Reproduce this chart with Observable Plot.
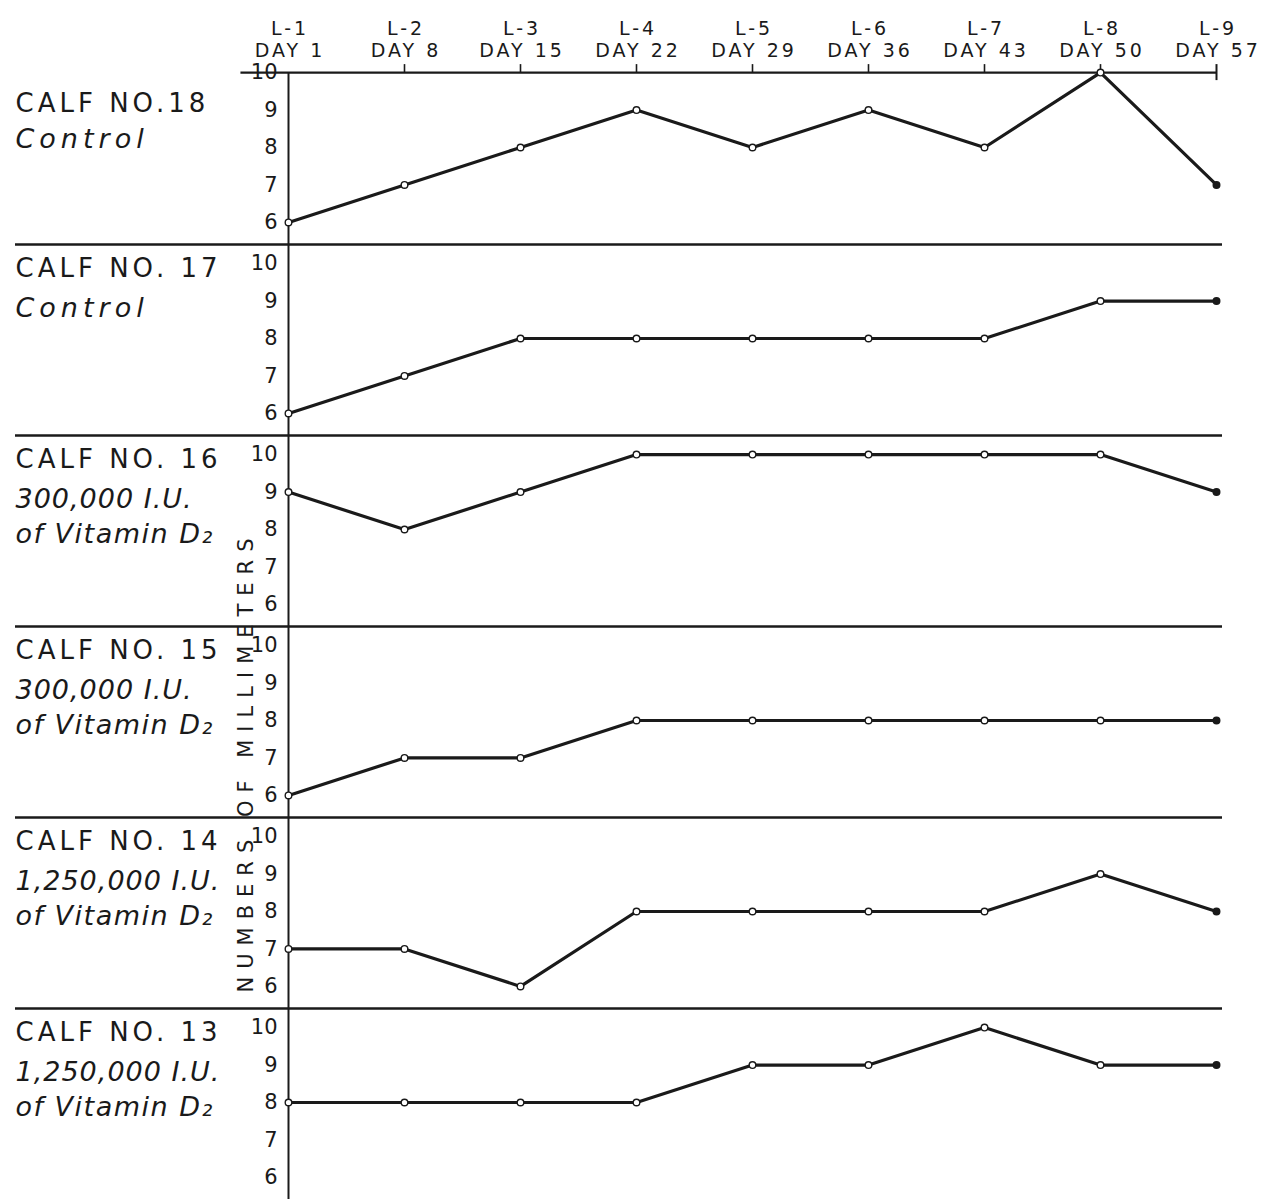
<!DOCTYPE html>
<html><head><meta charset="utf-8">
<script src="https://cdn.jsdelivr.net/npm/d3@7"></script>
<script src="https://cdn.jsdelivr.net/npm/@observablehq/plot@0.6"></script>
<style>
html,body{margin:0;padding:0;background:#fff;}
#chart svg{display:block;}
g[aria-description="header"] text{letter-spacing:3px;}
g[aria-description="title"] text{letter-spacing:4px;}
g[aria-description="control"] text{letter-spacing:5px;}
g[aria-description="dose"] text{letter-spacing:1px;}
g[aria-description="vitamin"] text{letter-spacing:1.5px;}
g[aria-description="ytitle"] text{letter-spacing:8px;}
</style>
</head><body><div id="chart"></div>
<script>
// ---- data ----
const periods = ["L-1","L-2","L-3","L-4","L-5","L-6","L-7","L-8","L-9"];
const days = ["DAY 1","DAY 8","DAY 15","DAY 22","DAY 29","DAY 36","DAY 43","DAY 50","DAY 57"];
const calves = ["CALF NO.18","CALF NO. 17","CALF NO. 16","CALF NO. 15","CALF NO. 14","CALF NO. 13"];
const treatLine1 = ["Control","Control","300,000 I.U.","300,000 I.U.","1,250,000 I.U.","1,250,000 I.U."];
const treatLine2 = ["","","of Vitamin D₂","of Vitamin D₂","of Vitamin D₂","of Vitamin D₂"];
const calf18 = [6, 7, 8, 9, 8, 9, 8, 10, 7];
const calf17 = [6, 7, 8, 8, 8, 8, 8, 9, 9];
const calf16 = [9, 8, 9, 10, 10, 10, 10, 10, 9];
const calf15 = [6, 7, 7, 8, 8, 8, 8, 8, 8];
const calf14 = [7, 7, 6, 8, 8, 8, 8, 9, 8];
const calf13 = [8, 8, 8, 8, 9, 9, 10, 9, 9];
const yTicks = [6, 7, 8, 9, 10];
const yTitle = "NUMBERS OF MILLIMETERS";

// ---- derived tables ----
const series = [calf18, calf17, calf16, calf15, calf14, calf13];
const rows = series.flatMap((vals, c) => vals.map((v, i) => ({calf: calves[c], idx: i, value: v, last: i === vals.length - 1})));
const tickRows = calves.flatMap(c => yTicks.map(t => ({calf: c, t})));
const header = periods.map((p, i) => ({calf: calves[0], idx: i, label: p + "\n" + days[i]}));
const labelRows = calves.map((c, i) => ({calf: c, title: c, l1: treatLine1[i], l2: treatLine2[i]}));
const first = labelRows.slice(0, 1), rest = labelRows.slice(1);
const restControls = rest.filter(d => d.l2 === "");
const doses = labelRows.filter(d => d.l2 !== "");

const ink = "#1a1a1a";
const yDom = [5.41, 10.51];
const font = "DejaVu Sans, Verdana, sans-serif";

const chart = Plot.plot({
  width: 1274, height: 1199,
  marginTop: 52, marginBottom: 0, marginLeft: 15, marginRight: 52,
  style: {background: "#fff", fontFamily: font, color: ink, overflow: "visible"},
  x: {domain: [0, periods.length - 1], range: [288, 1216], axis: null},
  y: {domain: yDom, axis: null},
  fy: {domain: calves, axis: null, padding: 0},
  facet: {marginTop: 0, marginBottom: 0, marginLeft: 0, marginRight: 0},
  marks: [
    // separators between panels
    Plot.ruleY(rest, {fy: "calf", y: yDom[1], stroke: ink, strokeWidth: 2.4}),
    // top axis line + left rule in first panel
    Plot.ruleY(first, {fy: "calf", y: 10, x1: 0, x2: periods.length - 1, stroke: ink, strokeWidth: 2.2}),
    Plot.ruleY(first, {fy: "calf", y: 10, x2: -0.41, stroke: ink, strokeWidth: 2.4}),
    Plot.ruleX(header.slice(1, -1), {fy: "calf", x: "idx", y1: 10, y2: 10, insetTop: -8, stroke: ink, strokeWidth: 1.6}),
    Plot.ruleX(header.slice(-1), {fy: "calf", x: "idx", y1: 10, y2: 10, insetTop: -8, insetBottom: -8, stroke: ink, strokeWidth: 2}),
    Plot.text(header, {fy: "calf", x: "idx", y: 10, text: "label", lineAnchor: "bottom", dy: -16, dx: 1.5, lineHeight: 1.16, fontSize: 19, fill: ink, ariaDescription: "header"}),
    // vertical axis
    Plot.ruleX(first, {fy: "calf", x: 0, y1: 10, y2: yDom[0], stroke: ink, strokeWidth: 2}),
    Plot.ruleX(rest, {fy: "calf", x: 0, stroke: ink, strokeWidth: 2}),
    // y tick labels
    Plot.text(tickRows, {fy: "calf", x: 0, y: "t", text: d => String(d.t), textAnchor: "end", dx: -11, fontSize: 21, fill: ink}),
    // panel labels
    Plot.text(first, {fy: "calf", frameAnchor: "top-left", text: "title", lineAnchor: "bottom", dy: 58, fontSize: 26, fill: ink, ariaDescription: "title"}),
    Plot.text(first, {fy: "calf", frameAnchor: "top-left", text: "l1", lineAnchor: "bottom", dy: 94, fontSize: 27, fontStyle: "italic", fill: ink, ariaDescription: "control"}),
    Plot.text(rest, {fy: "calf", frameAnchor: "top-left", text: "title", lineAnchor: "bottom", dy: 32, fontSize: 26, fill: ink, ariaDescription: "title"}),
    Plot.text(restControls, {fy: "calf", frameAnchor: "top-left", text: "l1", lineAnchor: "bottom", dy: 72, fontSize: 27, fontStyle: "italic", fill: ink, ariaDescription: "control"}),
    Plot.text(doses, {fy: "calf", frameAnchor: "top-left", text: "l1", lineAnchor: "bottom", dy: 72, fontSize: 27, fontStyle: "italic", fill: ink, ariaDescription: "dose"}),
    Plot.text(doses, {fy: "calf", frameAnchor: "top-left", text: "l2", lineAnchor: "bottom", dy: 107, fontSize: 27, fontStyle: "italic", fill: ink, ariaDescription: "vitamin"}),
    // vertical axis title
    Plot.text([{calf: calves[3]}], {fy: "calf", x: 0, y: yDom[0], dx: -42, dy: -56, rotate: -90, text: () => yTitle, fontSize: 21, fill: ink, ariaDescription: "ytitle"}),
    // data
    Plot.line(rows, {fy: "calf", x: "idx", y: "value", stroke: ink, strokeWidth: 3.2, strokeLinejoin: "round"}),
    Plot.dot(rows, {fy: "calf", x: "idx", y: "value", r: 3.3, fill: d => d.last ? ink : "#ffffff", stroke: ink, strokeWidth: 1.4})
  ]
});
document.getElementById("chart").appendChild(chart);
</script>
</body></html>
